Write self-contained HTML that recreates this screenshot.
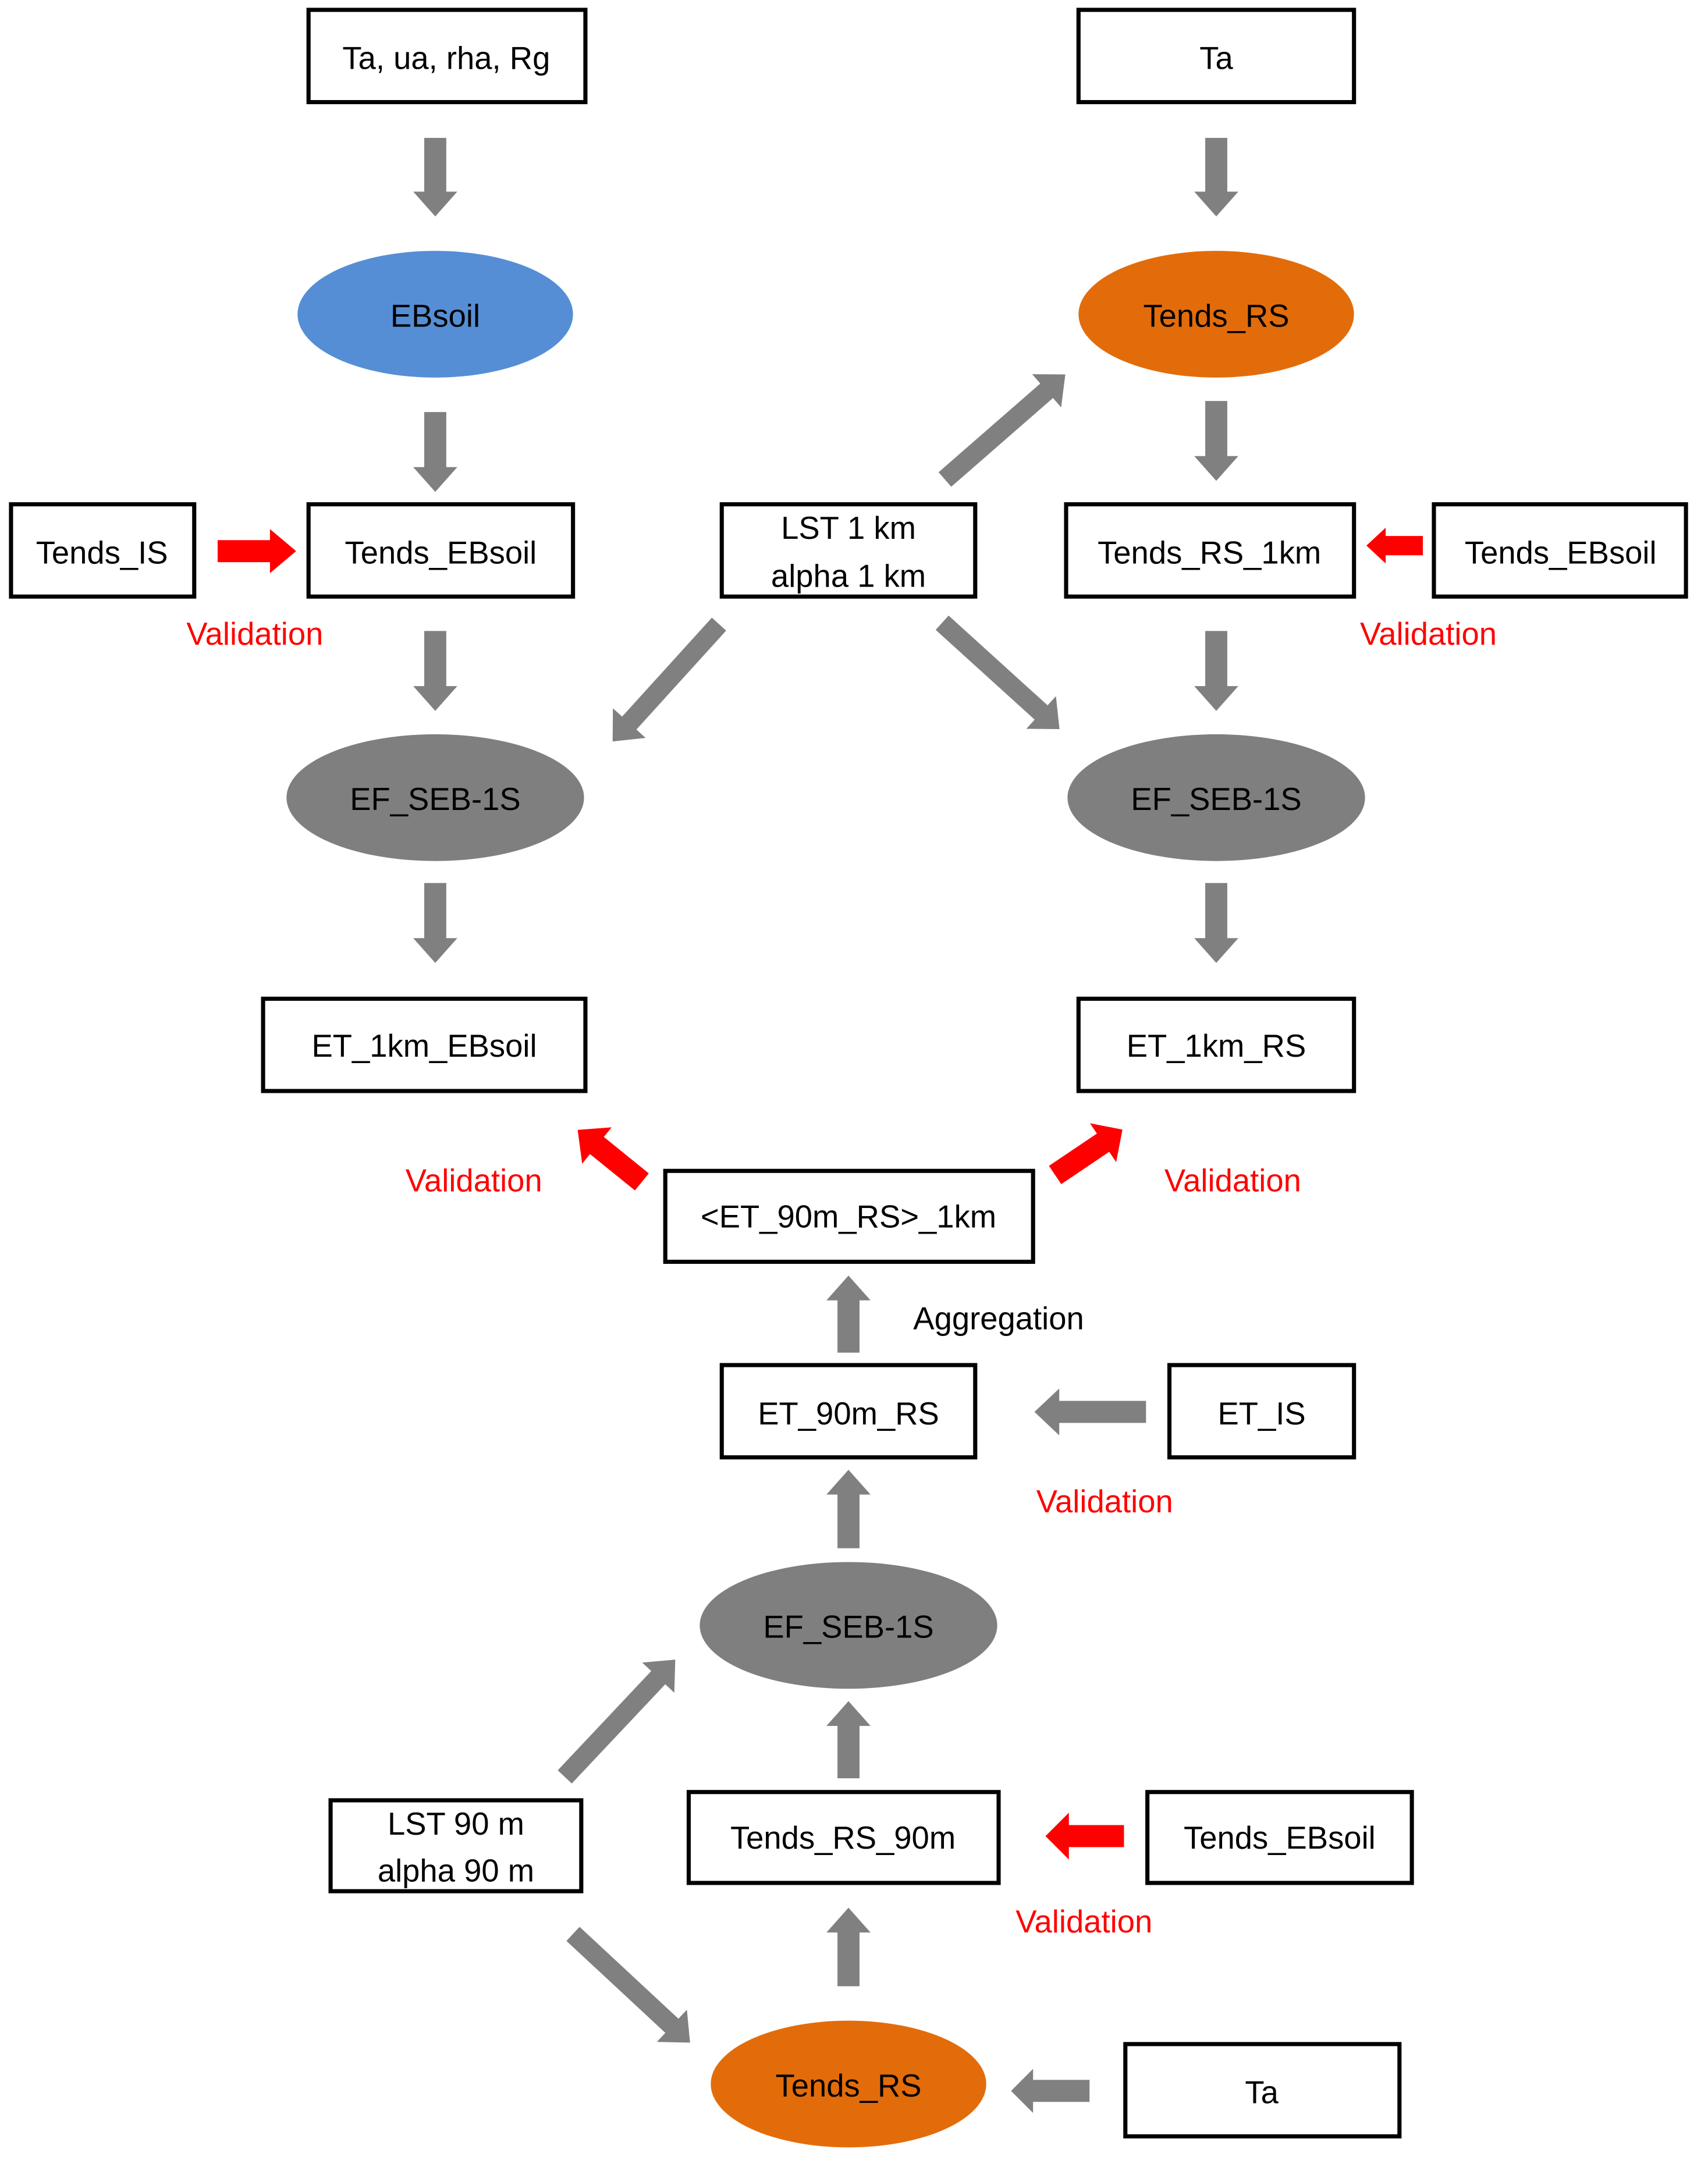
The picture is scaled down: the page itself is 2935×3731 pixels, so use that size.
<!DOCTYPE html>
<html><head><meta charset="utf-8"><style>html,body{margin:0;padding:0;background:#fff}svg{display:block}</style></head>
<body>
<svg width="2935" height="3731" viewBox="0 0 1240 1576" xmlns="http://www.w3.org/2000/svg" font-family="Liberation Sans, sans-serif">
<defs>
<polygon id="ag" points="0,-8 -1,-8 -1,8 0,8"/>
</defs>
<g fill="#fff" stroke="#000" stroke-width="3">
<rect x="224" y="7" width="201" height="67"/>
<rect x="783" y="7" width="200" height="67"/>
<rect x="8" y="366" width="133" height="67"/>
<rect x="224" y="366" width="192" height="67"/>
<rect x="524" y="366" width="184" height="67"/>
<rect x="774" y="366" width="209" height="67"/>
<rect x="1041" y="366" width="183" height="67"/>
<rect x="191" y="725" width="234" height="67"/>
<rect x="783" y="725" width="200" height="67"/>
<rect x="483" y="850" width="267" height="66"/>
<rect x="524" y="991" width="184" height="67"/>
<rect x="849" y="991" width="134" height="67"/>
<rect x="240" y="1307" width="182" height="66"/>
<rect x="500" y="1301" width="225" height="66"/>
<rect x="833" y="1301" width="192" height="66"/>
<rect x="817" y="1484" width="199" height="67"/>
</g>
<ellipse cx="316" cy="228" rx="100" ry="46" fill="#558ed5"/>
<ellipse cx="883" cy="228" rx="100" ry="46" fill="#e36c0a"/>
<ellipse cx="316" cy="579" rx="108" ry="46" fill="#7f7f7f"/>
<ellipse cx="883" cy="579" rx="108" ry="46" fill="#7f7f7f"/>
<ellipse cx="616" cy="1180" rx="108" ry="46" fill="#7f7f7f"/>
<ellipse cx="616" cy="1513" rx="100" ry="46" fill="#e36c0a"/>

<g id="arrows">
<!-- gray arrows: polygon along +x length L; shaft half 8, head half 16, head len 18 -->
<g fill="#808080">
<polygon transform="translate(316,100) rotate(90)" points="0,-8 39,-8 39,-16 57,0 39,16 39,8 0,8"/>
<polygon transform="translate(883,100) rotate(90)" points="0,-8 39,-8 39,-16 57,0 39,16 39,8 0,8"/>
<polygon transform="translate(316,299) rotate(90)" points="0,-8 40,-8 40,-16 58,0 40,16 40,8 0,8"/>
<polygon transform="translate(883,291) rotate(90)" points="0,-8 40,-8 40,-16 58,0 40,16 40,8 0,8"/>
<polygon transform="translate(316,458) rotate(90)" points="0,-8 40,-8 40,-16 58,0 40,16 40,8 0,8"/>
<polygon transform="translate(883,458) rotate(90)" points="0,-8 40,-8 40,-16 58,0 40,16 40,8 0,8"/>
<polygon transform="translate(316,641) rotate(90)" points="0,-8 40,-8 40,-16 58,0 40,16 40,8 0,8"/>
<polygon transform="translate(883,641) rotate(90)" points="0,-8 40,-8 40,-16 58,0 40,16 40,8 0,8"/>
<polygon transform="translate(686,348) rotate(-41.1)" points="0,-7 98,-7 98,-16 116,0 98,16 98,7 0,7"/>
<polygon transform="translate(522,453) rotate(132.2)" points="0,-7 97,-7 97,-16 115,0 97,16 97,7 0,7"/>
<polygon transform="translate(684,452) rotate(42.2)" points="0,-7 97,-7 97,-16 115,0 97,16 97,7 0,7"/>
<polygon transform="translate(616,982) rotate(-90)" points="0,-8 38,-8 38,-16 56,0 38,16 38,8 0,8"/>
<polygon transform="translate(832,1025) rotate(180)" points="0,-8 63,-8 63,-17 81,0 63,17 63,8 0,8"/>
<polygon transform="translate(616,1124) rotate(-90)" points="0,-8 39,-8 39,-16 57,0 39,16 39,8 0,8"/>
<polygon transform="translate(616,1291) rotate(-90)" points="0,-8 38,-8 38,-16 56,0 38,16 38,8 0,8"/>
<polygon transform="translate(410,1290) rotate(-46.7)" points="0,-7 99,-7 99,-16 117,0 99,16 99,7 0,7"/>
<polygon transform="translate(616,1442) rotate(-90)" points="0,-8 39,-8 39,-16 57,0 39,16 39,8 0,8"/>
<polygon transform="translate(416,1404) rotate(42.9)" points="0,-7 98,-7 98,-16 116,0 98,16 98,7 0,7"/>
<polygon transform="translate(791,1518) rotate(180)" points="0,-8 41,-8 41,-16 57,0 41,16 41,8 0,8"/>
</g>
<g fill="#ff0000">
<polygon transform="translate(158,400)" points="0,-8 38,-8 38,-16 57,0 38,16 38,8 0,8"/>
<polygon transform="translate(1033,396) rotate(180)" points="0,-7 27,-7 27,-13 41,0 27,13 27,7 0,7"/>
<polygon transform="translate(466,858) rotate(-141)" points="0,-8 42,-8 42,-17 60,0 42,17 42,8 0,8"/>
<polygon transform="translate(766,853) rotate(-34)" points="0,-8 42,-8 42,-17 59,0 42,17 42,8 0,8"/>
<polygon transform="translate(816,1333) rotate(180)" points="0,-8 40,-8 40,-17 57,0 40,17 40,8 0,8"/>
</g>
</g>

<g font-size="23" text-anchor="middle" fill="#000">
<text x="324" y="50">Ta, ua, rha, Rg</text>
<text x="883" y="50">Ta</text>
<text x="316" y="237">EBsoil</text>
<text x="883" y="237">Tends_RS</text>
<text x="74" y="409">Tends_IS</text>
<text x="320" y="409">Tends_EBsoil</text>
<text x="616" y="391">LST 1 km</text>
<text x="616" y="426">alpha 1 km</text>
<text x="878" y="409">Tends_RS_1km</text>
<text x="1133" y="409">Tends_EBsoil</text>
<text x="316" y="588">EF_SEB-1S</text>
<text x="883" y="588">EF_SEB-1S</text>
<text x="308" y="767">ET_1km_EBsoil</text>
<text x="883" y="767">ET_1km_RS</text>
<text x="616" y="891">&lt;ET_90m_RS&gt;_1km</text>
<text x="616" y="1034">ET_90m_RS</text>
<text x="916" y="1034">ET_IS</text>
<text x="616" y="1189">EF_SEB-1S</text>
<text x="331" y="1332">LST 90 m</text>
<text x="331" y="1366">alpha 90 m</text>
<text x="612" y="1342">Tends_RS_90m</text>
<text x="929" y="1342">Tends_EBsoil</text>
<text x="616" y="1522">Tends_RS</text>
<text x="916" y="1527">Ta</text>
<text x="725" y="965">Aggregation</text>
</g>
<g font-size="23" text-anchor="middle" fill="#ff0000">
<text x="185" y="468">Validation</text>
<text x="1037" y="468">Validation</text>
<text x="344" y="865">Validation</text>
<text x="895" y="865">Validation</text>
<text x="802" y="1098">Validation</text>
<text x="787" y="1403">Validation</text>
</g>
</svg>
</body></html>
